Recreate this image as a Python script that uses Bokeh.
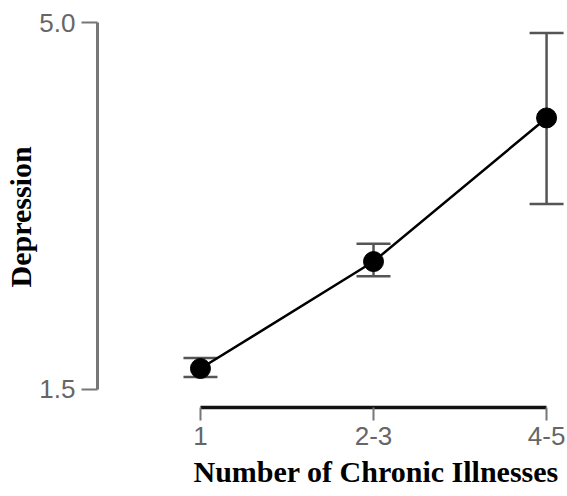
from bokeh.plotting import figure
from bokeh.models import (Range1d, FixedTicker, PrintfTickFormatter, ColumnDataSource,
                          Whisker, TeeHead, Title)
from bokeh.embed import file_html
from bokeh.resources import INLINE

# data
categories = ["1", "2-3", "4-5"]
x_pos = [0, 1, 2]
means = [1.70, 2.72, 4.09]
upper = [1.80, 2.89, 4.90]
lower = [1.62, 2.58, 3.27]
y_ticks = [1.5, 5.0]
x_title = "Number of Chronic Illnesses"
y_title = "Depression"

src = ColumnDataSource(dict(x=x_pos, mean=means, upper=upper, lower=lower))

p = figure(width=567, height=496, output_backend="svg", toolbar_location=None,
           x_range=Range1d(-0.595, 2.121), y_range=Range1d(1.328, 5.21),
           min_border_left=97, min_border_bottom=89, min_border_top=0,
           min_border_right=0, outline_line_color=None)
p.grid.visible = False
p.background_fill_color = "white"
p.border_fill_color = "white"

# y axis
ya = p.yaxis[0]
ya.ticker = FixedTicker(ticks=y_ticks)
ya.formatter = PrintfTickFormatter(format="%.1f")
ya.bounds = (1.5, 5.0)
ya.axis_line_color = "#777777"
ya.axis_line_width = 3
ya.major_tick_line_color = "#777777"
ya.major_tick_line_width = 2
ya.major_tick_out = 16
ya.major_tick_in = 0
ya.minor_tick_line_color = None
ya.major_label_standoff = 6
ya.major_label_text_font = "Liberation Sans"
ya.major_label_text_font_size = "26px"
ya.major_label_text_color = "#666666"

# x axis
xa = p.xaxis[0]
xa.ticker = FixedTicker(ticks=x_pos)
xa.major_label_overrides = {i: c for i, c in zip(x_pos, categories)}
xa.bounds = (0, 2)
xa.axis_line_color = "#111111"
xa.axis_line_width = 3.5
xa.major_tick_line_color = "#777777"
xa.major_tick_line_width = 2
xa.major_tick_out = 13
xa.major_tick_in = 0
xa.minor_tick_line_color = None
xa.major_label_standoff = 6
xa.major_label_text_font = "Liberation Sans"
xa.major_label_text_font_size = "26px"
xa.major_label_text_color = "#666666"

# axis titles as side titles (so they can sit off the frame centre, as in the original)
p.add_layout(Title(text=x_title, align="left", offset=96, standoff=11,
                   text_font="Liberation Serif", text_font_style="bold",
                   text_font_size="30px", text_color="black"), "below")
p.add_layout(Title(text=y_title, align="left", offset=120, standoff=0,
                   text_font="Liberation Serif", text_font_style="bold",
                   text_font_size="30px", text_color="black"), "left")

# error bars
w = Whisker(source=src, base="x", upper="upper", lower="lower", dimension="height",
            line_color="#555555", line_width=2.5,
            upper_head=TeeHead(size=34, line_color="#555555", line_width=2.5),
            lower_head=TeeHead(size=34, line_color="#555555", line_width=2.5))
p.add_layout(w)

p.line("x", "mean", source=src, line_color="black", line_width=2.5)
p.scatter("x", "mean", source=src, size=20, fill_color="black", line_color="black")

open("out.html", "w").write(file_html(p, INLINE))
